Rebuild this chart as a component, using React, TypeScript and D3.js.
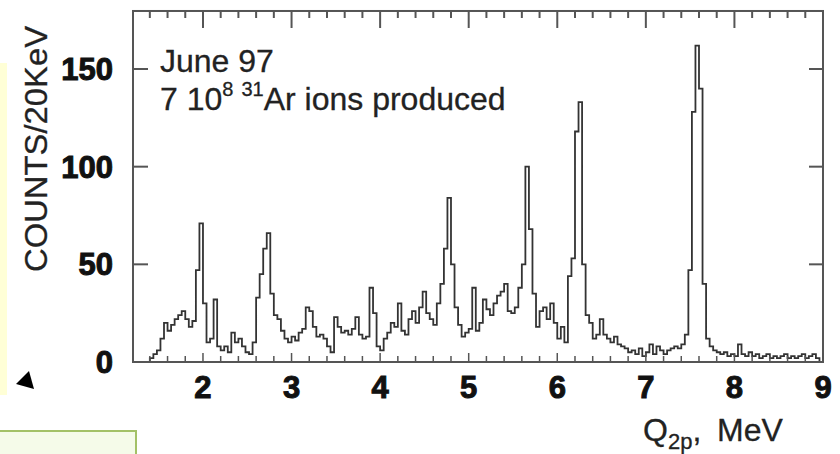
import React from "react";
import * as d3 from "d3";

// ---- data ----
const binStart = 1.4; // MeV
const binWidth = 0.04; // MeV
const counts: number[] = [
  2, 4, 6, 12, 20, 16, 19, 22, 24, 26,
  22, 18, 21, 47, 71, 30, 10, 12, 32, 8,
  6, 8, 5, 15, 10, 12, 8, 5, 4, 10,
  33, 45, 58, 66, 35, 24, 22, 16, 12, 10,
  13, 11, 15, 17, 28, 26, 18, 13, 14, 12,
  8, 5, 23, 18, 15, 16, 14, 17, 23, 14,
  12, 13, 38, 25, 8, 6, 12, 15, 20, 18,
  30, 16, 14, 22, 26, 20, 28, 36, 25, 22,
  19, 30, 40, 58, 84, 50, 28, 19, 13, 15,
  17, 38, 16, 20, 32, 27, 24, 30, 34, 36,
  40, 26, 25, 28, 38, 50, 100, 68, 35, 18,
  26, 28, 22, 30, 20, 12, 18, 10, 44, 53,
  118, 133, 50, 24, 20, 12, 14, 22, 14, 12,
  10, 13, 9, 8, 7, 5, 6, 4, 7, 3,
  5, 9, 4, 8, 6, 4, 6, 7, 8, 7,
  9, 14, 47, 128, 162, 140, 40, 12, 8, 6,
  5, 4, 5, 3, 4, 3, 9, 4, 3, 5,
  3, 4, 2, 3, 4, 2, 3, 2, 3, 4,
  2, 3, 2, 3, 4, 2, 3, 4, 2,
];
const xDomain = [1.21, 9];
const yDomainMax = 179.7;
const xTickLabels = [2, 3, 4, 5, 6, 7, 8, 9];
const yTickLabels = [0, 50, 100, 150];
const yTitle = "COUNTS/20KeV";
const noteLine1 = "June 97";

// ---- layout ----
const W = 840;
const H = 454;
const left = 133;
const right = 823;
const bottom = 362;

export default function App() {
  const x = d3.scaleLinear().domain(xDomain).range([left, right]);
  const y = d3.scaleLinear().domain([0, 150]).range([bottom, 69]);
  const top = y(yDomainMax);

  const pts: [number, number][] = [[binStart, 0]];
  counts.forEach((c, i) => pts.push([binStart + i * binWidth, c]));
  const xEnd = binStart + counts.length * binWidth;
  pts.push([xEnd, counts[counts.length - 1]]);
  pts.push([xEnd, 0]);
  const line = d3
    .line<[number, number]>()
    .x((d) => x(d[0]))
    .y((d) => y(d[1]))
    .curve(d3.curveStepAfter);

  const minor = d3.range(1.4, 9.0001, 0.2).map((v) => Math.round(v * 10) / 10);
  const frameColor = "#555";
  const tickFont = "'Liberation Sans', Arial, sans-serif";

  return (
    <svg
      width={W}
      height={H}
      style={{ position: "absolute", left: 0, top: 0, background: "#fff" }}
    >
      {/* decorations */}
      <rect x={0} y={63} width={7} height={332} fill="#ffffd6" />
      <path d="M16,384 L34,389 L29,371 Z" fill="#000" />
      <rect x={-2} y={431} width={138} height={30} fill="#f5fbe9" stroke="#a3c167" strokeWidth={2} />

      {/* histogram */}
      <path d={line(pts) || ""} fill="none" stroke="#333" strokeWidth={1.8} />

      {/* frame */}
      <rect x={left} y={top} width={right - left} height={bottom - top} fill="none" stroke={frameColor} strokeWidth={2} />

      {/* top & bottom ticks */}
      {minor.map((v) => {
        const isMajor = Math.abs(v - Math.round(v)) < 1e-6;
        const px = x(v);
        return (
          <g key={v}>
            <line x1={px} x2={px} y1={top} y2={top + (isMajor ? 17 : 7)} stroke={frameColor} strokeWidth={2} />
            <line x1={px} x2={px} y1={bottom} y2={bottom - (isMajor ? 9 : 6)} stroke={frameColor} strokeWidth={1.5} />
          </g>
        );
      })}
      {/* left & right ticks */}
      {yTickLabels.map((v) => (
        <g key={v}>
          <line x1={left} x2={left + 15} y1={y(v)} y2={y(v)} stroke={frameColor} strokeWidth={2} />
          <line x1={right} x2={right - 14} y1={y(v)} y2={y(v)} stroke={frameColor} strokeWidth={2} />
          <text
            x={113}
            y={y(v) + 11}
            textAnchor="end"
            fontFamily={tickFont}
            fontWeight="bold"
            fontSize={31}
            fill="#111"
            stroke="#111"
            strokeWidth={1}
          >
            {v}
          </text>
        </g>
      ))}
      {xTickLabels.map((v) => (
        <text
          key={v}
          x={x(v)}
          y={398}
          textAnchor="middle"
          fontFamily={tickFont}
          fontWeight="bold"
          fontSize={31}
          fill="#111"
          stroke="#111"
          strokeWidth={1}
        >
          {v}
        </text>
      ))}

      {/* y title */}
      <text
        transform="translate(47,149) rotate(-90)"
        textAnchor="middle"
        fontFamily={tickFont}
        fontSize={31}
        fill="#222"
        stroke="#222"
        strokeWidth={0.3}
        textLength={246}
        lengthAdjust="spacingAndGlyphs"
      >
        {yTitle}
      </text>

      {/* x title */}
      <text x={643} y={441} fontFamily={tickFont} fontSize={32} fill="#222" stroke="#222" strokeWidth={0.3}>
        Q
        <tspan fontSize={22} dy={8}>2p</tspan>
        <tspan dy={-8}>,</tspan>
        <tspan x={717}>MeV</tspan>
      </text>

      {/* annotation */}
      <text x={160} y={72} fontFamily={tickFont} fontSize={32} fill="#222" stroke="#222" strokeWidth={0.3}>
        {noteLine1}
      </text>
      <text x={160} y={110} fontFamily={tickFont} fontSize={32} fill="#222" stroke="#222" strokeWidth={0.3}>
        7 10
        <tspan fontSize={20} dy={-14}>8</tspan>
        <tspan fontSize={20} dx={8}>31</tspan>
        <tspan dy={14}>Ar ions produced</tspan>
      </text>
    </svg>
  );
}
